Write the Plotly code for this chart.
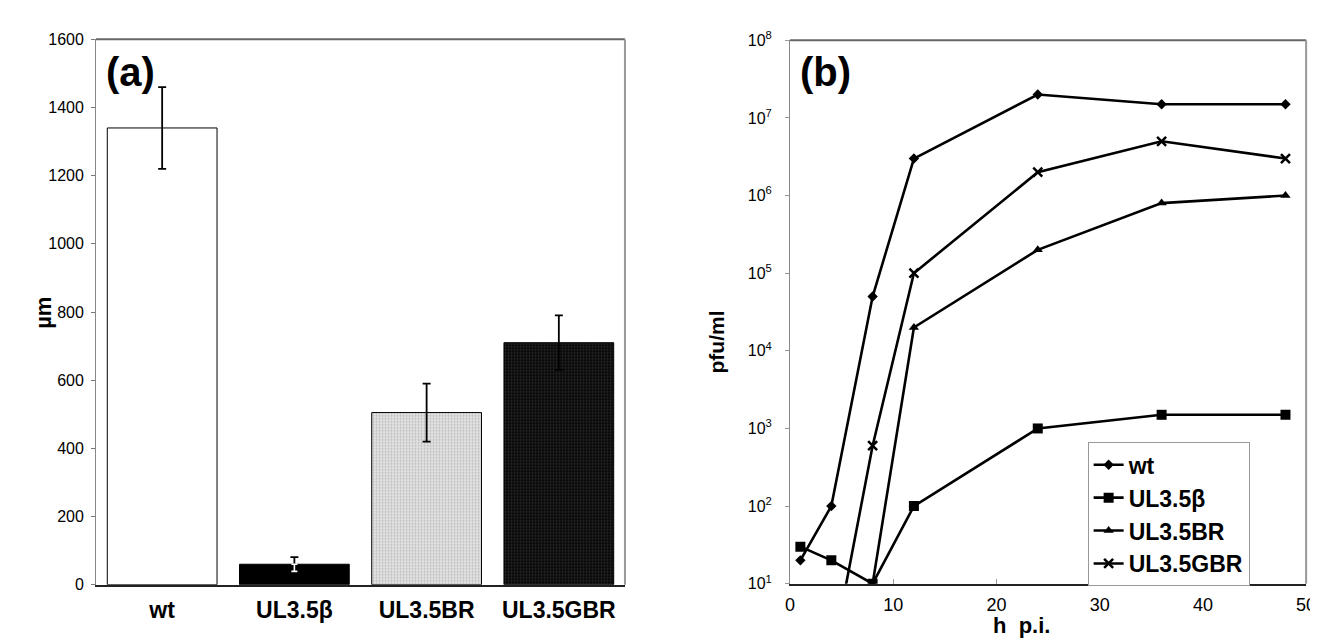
import plotly.graph_objects as go

# ---- data: panel (a) ----
strains = ["wt", "UL3.5β", "UL3.5BR", "UL3.5GBR"]
plaque_um = [1340, 60, 505, 710]
plaque_err = [120, 21, 85, 80]

# ---- data: panel (b) ----
hours = [1, 4, 8, 12, 24, 36, 48]
wt_titer = [20, 100, 5e4, 3e6, 2e7, 1.5e7, 1.5e7]
beta_titer = [30, 20, 10, 100, 1000, 1500, 1500]
br_titer = [1, 1, 10, 2e4, 2e5, 8e5, 1e6]
gbr_titer = [1, 1, 600, 1e5, 2e6, 5e6, 3e6]
log_ticks = [1, 2, 3, 4, 5, 6, 7, 8]

W, H = 1318, 638
FONT = "Arial, Liberation Sans, sans-serif"

def px_x(x):
    return x / W

def px_y(y):
    return 1 - y / H

fig = go.Figure()

fills = ["#ffffff", "#000000", "#d4d4d4", "#0c0c0c"]
for i, (s, v, e) in enumerate(zip(strains, plaque_um, plaque_err)):
    pattern = None
    if i == 2:
        pattern = dict(shape=".", bgcolor="#e4e4e4", fgcolor="#8a8a8a", size=3, solidity=0.35)
    elif i == 3:
        pattern = dict(shape=".", bgcolor="#0a0a0a", fgcolor="#5a5a5a", size=3, solidity=0.25)
    marker = dict(color=fills[i], line=dict(color="#000000", width=1))
    if pattern:
        marker["pattern"] = pattern
    fig.add_trace(go.Bar(
        x=[s], y=[v], width=0.83, marker=marker,
        error_y=dict(type="data", array=[e], color="#000000", thickness=1.8, width=4),
        xaxis="x", yaxis="y", showlegend=False, hoverinfo="skip",
    ))

# lower half of the error bar over the black bar drawn in white (as in the original)
for i in (1,):
    fig.add_trace(go.Scatter(
        x=[strains[i]], y=[plaque_um[i]], mode="markers", marker=dict(size=1, color="rgba(0,0,0,0)"),
        error_y=dict(type="data", symmetric=False, array=[0], arrayminus=[plaque_err[i]],
                     color="#ffffff", thickness=1.6, width=3),
        xaxis="x", yaxis="y", showlegend=False, hoverinfo="skip",
    ))

series = [
    ("wt", wt_titer, dict(symbol="diamond", size=8)),
    ("UL3.5β", beta_titer, dict(symbol="square", size=10)),
    ("UL3.5BR", br_titer, dict(symbol="triangle-up", size=9)),
    ("UL3.5GBR", gbr_titer, dict(symbol="x-thin", size=9, line=dict(width=2.5, color="#000"))),
]
for name, vals, mk in series:
    m = dict(color="#000000")
    m.update(mk)
    fig.add_trace(go.Scatter(
        x=hours, y=vals, name=name, mode="lines+markers",
        line=dict(color="#000000", width=2.6), marker=m,
        xaxis="x2", yaxis="y2",
    ))

tickfont = dict(family=FONT, size=16, color="#000")

fig.update_layout(
    width=W, height=H,
    margin=dict(l=0, r=0, t=0, b=0),
    paper_bgcolor="white", plot_bgcolor="white",
    font=dict(family=FONT, color="#000"),
    bargap=0.17,
    xaxis=dict(
        domain=[px_x(84), px_x(619)], anchor="y",
        tickmode="array", tickvals=strains,
        ticktext=["<b>%s</b>" % s for s in strains],
        tickfont=dict(family=FONT, size=23, color="#000"),
        ticks="", showline=True, linecolor="#222", linewidth=2, mirror=False,
        showgrid=False, zeroline=False, ticklabelstandoff=4,
    ),
    yaxis=dict(
        domain=[px_y(584), px_y(21)], anchor="x",
        range=[0, 1600], dtick=200, tickfont=tickfont,
        ticks="outside", ticklen=4, tickcolor="#777",
        showline=True, linecolor="#888", linewidth=1,
        showgrid=False, zeroline=False, ticklabelstandoff=4,
    ),
    xaxis2=dict(
        domain=[px_x(786), px_x(1308)], anchor="y2",
        range=[0, 50], tickmode="array", tickvals=[0, 10, 20, 30, 40, 50],
        tickfont=dict(family=FONT, size=18, color="#000"),
        ticks="inside", ticklen=5, tickcolor="#999",
        showline=True, linecolor="#222", linewidth=2,
        showgrid=False, zeroline=False, ticklabelstandoff=4,
        ticklabeloverflow="allow",
    ),
    yaxis2=dict(
        domain=[px_y(583), px_y(22)], anchor="x2",
        type="log", range=[1, 8],
        tickmode="array", tickvals=[10 ** k for k in log_ticks],
        ticktext=["10<sup>%d</sup>" % k for k in log_ticks],
        tickfont=tickfont, ticks="outside", ticklen=4, tickcolor="#999",
        showline=True, linecolor="#888", linewidth=1,
        showgrid=False, zeroline=False, ticklabelstandoff=10,
    ),
    legend=dict(
        x=px_x(1087), y=px_y(437), xanchor="left", yanchor="top",
        bgcolor="white", bordercolor="#999", borderwidth=1,
        font=dict(family=FONT, size=23, color="#000", weight="bold"),
        tracegroupgap=0, itemwidth=30,
    ),
    shapes=[
        dict(type="line", xref="paper", yref="paper", x0=px_x(84), x1=px_x(619), y0=px_y(21), y1=px_y(21), line=dict(color="#666", width=2)),
        dict(type="line", xref="paper", yref="paper", x0=px_x(619), x1=px_x(619), y0=px_y(21), y1=px_y(584), line=dict(color="#999", width=2)),
        dict(type="line", xref="paper", yref="paper", x0=px_x(786), x1=px_x(1308), y0=px_y(22), y1=px_y(22), line=dict(color="#666", width=2)),
        dict(type="line", xref="paper", yref="paper", x0=px_x(1308), x1=px_x(1308), y0=px_y(22), y1=px_y(583), line=dict(color="#999", width=2)),
    ],
    annotations=[
        dict(text="<b>(a)</b>", x=px_x(92), y=px_y(30), xref="paper", yref="paper",
             xanchor="left", yanchor="top", showarrow=False, font=dict(size=40, family=FONT)),
        dict(text="<b>(b)</b>", x=px_x(794), y=px_y(30), xref="paper", yref="paper",
             xanchor="left", yanchor="top", showarrow=False, font=dict(size=40, family=FONT)),
        dict(text="<b>µm</b>", x=px_x(16), y=px_y(303), xref="paper", yref="paper",
             textangle=-90, showarrow=False, font=dict(size=22, family=FONT)),
        dict(text="<b>pfu/ml</b>", x=px_x(712), y=px_y(333), xref="paper", yref="paper",
             textangle=-90, showarrow=False, font=dict(size=21, family=FONT)),
        dict(text="<b>h\u00a0\u00a0p.i.</b>", x=px_x(1051), y=px_y(626), xref="paper", yref="paper",
             yanchor="middle", showarrow=False, font=dict(size=22, family=FONT)),
    ],
)

fig.write_html("out.html")
